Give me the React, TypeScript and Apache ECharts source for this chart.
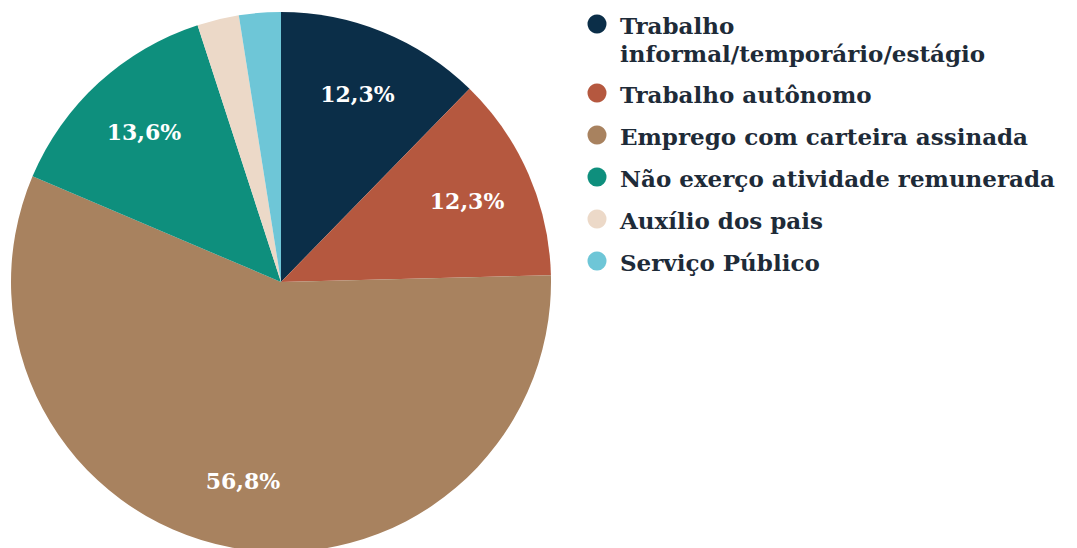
import React, { useEffect, useRef } from "react";
import * as echarts from "echarts";

const categories = [
  "Trabalho\ninformal/temporário/estágio",
  "Trabalho autônomo",
  "Emprego com carteira assinada",
  "Não exerço atividade remunerada",
  "Auxílio dos pais",
  "Serviço Público",
];
const values = [12.3, 12.3, 56.8, 13.6, 2.5, 2.5];
const colors = ["#0b2e48", "#b5583f", "#a8825f", "#0e8f7d", "#ecd9c8", "#6ec6d7"];
const showLabel = [true, true, true, true, false, false];

const FONT = "'DejaVu Serif', 'Liberation Serif', serif";

export default function App() {
  const ref = useRef<HTMLDivElement>(null);
  useEffect(() => {
    document.body.style.margin = "0";
    const chart = echarts.init(ref.current!, null, { renderer: "svg" });
    const data = categories.map((name, i) => ({
      name,
      value: values[i],
      itemStyle: { color: colors[i] },
    }));
    const labelData = categories.map((name, i) => ({
      name,
      value: values[i],
      label: { show: showLabel[i] },
    }));

    // custom legend
    const legendItems: any[] = [];
    const LH = 28;
    let y = 24;
    categories.forEach((name, i) => {
      const lines = name.split("\n");
      legendItems.push({
        type: "circle",
        shape: { cx: 597, cy: y, r: 9.5 },
        style: { fill: colors[i] },
        silent: true,
      });
      lines.forEach((line, k) => {
        legendItems.push({
          type: "text",
          x: 620,
          y: y + 1 + k * LH,
          style: {
            text: line,
            fill: "#1e2b38",
            font: `bold 23px ${FONT}`,
            lineHeight: LH,
            verticalAlign: "middle",
          },
          silent: true,
        });
      });
      y += (lines.length - 1) * (LH - 1) + 42;
    });

    chart.setOption({
      animation: false,
      graphic: legendItems,
      series: [
        {
          type: "pie",
          center: [281, 282],
          radius: [0, 270],
          startAngle: 90,
          clockwise: true,
          data,
          label: { show: false },
          labelLine: { show: false },
          silent: true,
        },
        {
          type: "pie",
          center: [281, 282],
          radius: [130, 270],
          startAngle: 90,
          clockwise: true,
          data: labelData,
          itemStyle: { color: "rgba(0,0,0,0)" },
          label: {
            show: true,
            position: "inside",
            color: "#ffffff",
            fontFamily: FONT,
            fontWeight: "bold",
            fontSize: 22,
            formatter: (p: any) => p.value.toFixed(1).replace(".", ",") + "%",
          },
          labelLine: { show: false },
          silent: true,
        },
      ],
    });
    return () => chart.dispose();
  }, []);
  return <div ref={ref} style={{ width: 1077, height: 548 }} />;
}
